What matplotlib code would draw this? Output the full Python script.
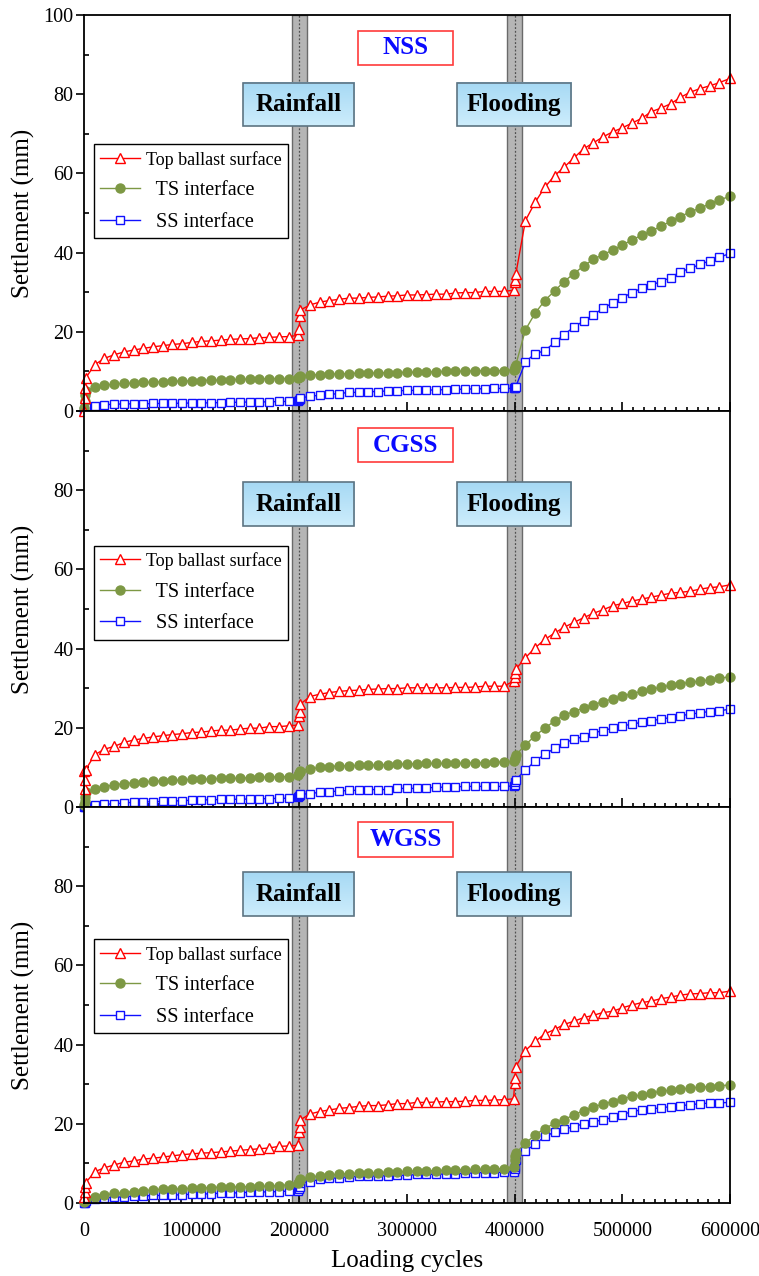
import matplotlib
matplotlib.use("Agg")
import numpy as np
import matplotlib.pyplot as plt
from matplotlib.patches import Rectangle
from matplotlib.colors import LinearSegmentedColormap
from matplotlib.ticker import MultipleLocator, FixedLocator

plt.rcParams['font.family'] = ['Liberation Serif', 'DejaVu Serif']

# Loading cycles at which settlement was recorded (shared by every series)
cycles = [0, 500, 1000, 1500,
          10000, 19000, 28000, 37000, 46000, 55000, 64000, 73000, 82000, 91000, 100000,
          109000, 118000, 127000, 136000, 145000, 154000, 163000, 172000, 181000, 190000,
          199000, 200000, 200500, 201000,
          210000, 219000, 228000, 237000, 246000, 255000, 264000, 273000, 282000, 291000, 300000,
          309000, 318000, 327000, 336000, 345000, 354000, 363000, 372000, 381000, 390000,
          399000, 400000, 400500, 401000,
          410000, 419000, 428000, 437000, 446000, 455000, 464000, 473000, 482000, 491000, 500000,
          509000, 518000, 527000, 536000, 545000, 554000, 563000, 572000, 581000, 590000, 600000]

panel_names = ["NSS", "CGSS", "WGSS"]
series_labels = ["Top ballast surface", "TS interface", "SS interface"]
event_labels = ["Rainfall", "Flooding"]
event_cycles = [200000, 400000]

# Settlement (mm) - NSS
top_nss = [0.0, 3.4, 5.7, 8.3,
           11.7, 13.3, 14.2, 14.9, 15.4, 15.8, 16.2, 16.5, 16.8, 17.0, 17.3, 17.6, 17.7, 17.9, 18.1, 18.2, 18.3, 18.5, 18.6, 18.7, 18.8,
           19.1, 20.6, 24.0, 25.5,
           26.8, 27.5, 27.9, 28.2, 28.5, 28.5, 28.7, 28.8, 29.0, 29.1, 29.3, 29.3, 29.4, 29.5, 29.5, 29.8, 29.9, 29.9, 30.2, 30.2, 30.2,
           30.5, 32.7, 33.2, 34.5,
           48.1, 52.7, 56.5, 59.4, 61.6, 63.9, 66.2, 67.7, 69.2, 70.5, 71.5, 72.7, 73.9, 75.6, 76.5, 77.6, 79.2, 80.5, 81.4, 82.1, 82.9, 84.0]
ts_nss = [0.8, 2.5, 4.0, 5.0,
          6.1, 6.5, 6.8, 7.0, 7.0, 7.2, 7.3, 7.4, 7.5, 7.6, 7.6, 7.7, 7.8, 7.8, 7.9, 8.0, 8.1, 8.1, 8.2, 8.2, 8.2,
          8.4, 8.5, 8.7, 8.9,
          9.1, 9.2, 9.3, 9.4, 9.4, 9.6, 9.6, 9.6, 9.7, 9.7, 9.8, 9.8, 9.9, 9.9, 10.0, 10.0, 10.1, 10.1, 10.2, 10.2, 10.2,
          10.4, 10.7, 11.2, 11.6,
          20.5, 24.7, 27.9, 30.3, 32.7, 34.7, 36.6, 38.3, 39.5, 40.6, 41.9, 43.2, 44.4, 45.4, 46.7, 47.9, 49.1, 50.3, 51.2, 52.3, 53.3, 54.2]
ss_nss = [0.0, 0.5, 1.0, 1.2,
          1.3, 1.6, 1.7, 1.8, 1.8, 1.8, 1.9, 1.9, 1.9, 2.0, 2.0, 2.0, 2.1, 2.1, 2.2, 2.2, 2.3, 2.3, 2.3, 2.4, 2.4,
          2.5, 2.8, 3.0, 3.3,
          3.7, 4.0, 4.2, 4.4, 4.7, 4.7, 4.9, 4.9, 5.1, 5.1, 5.2, 5.2, 5.3, 5.3, 5.4, 5.5, 5.5, 5.6, 5.6, 5.7, 5.7,
          5.7, 5.8, 6.0, 6.1,
          12.4, 14.5, 15.2, 17.3, 19.3, 21.2, 22.7, 24.3, 25.9, 27.3, 28.6, 29.9, 31.0, 31.8, 32.7, 33.7, 35.2, 36.0, 37.0, 37.9, 38.8, 39.8]

# Settlement (mm) - CGSS
top_cgss = [9.0, 4.5, 6.9, 9.4,
            13.2, 14.6, 15.3, 16.3, 16.9, 17.3, 17.7, 18.0, 18.3, 18.5, 18.8, 18.9, 19.2, 19.4, 19.4, 19.7, 19.9, 19.9, 20.3, 20.3, 20.5,
            20.7, 23.1, 24.1, 26.0,
            27.9, 28.5, 28.9, 29.2, 29.4, 29.5, 29.7, 29.8, 29.9, 29.9, 30.1, 30.1, 30.1, 30.1, 30.1, 30.2, 30.2, 30.3, 30.5, 30.5, 30.5,
            31.8, 32.9, 33.8, 34.8,
            37.7, 40.2, 42.3, 43.9, 45.4, 46.6, 47.8, 48.9, 49.8, 50.8, 51.4, 52.0, 52.5, 53.0, 53.5, 54.0, 54.2, 54.5, 55.0, 55.4, 55.6, 56.1]
ts_cgss = [0.5, 1.5, 2.5, 3.7,
           4.5, 5.1, 5.6, 5.9, 6.1, 6.3, 6.5, 6.6, 6.7, 6.8, 7.0, 7.0, 7.1, 7.2, 7.2, 7.3, 7.4, 7.5, 7.6, 7.6, 7.7,
           8.1, 8.5, 8.9, 9.2,
           9.6, 10.0, 10.2, 10.4, 10.4, 10.5, 10.5, 10.7, 10.7, 10.8, 10.9, 10.9, 11.0, 11.0, 11.0, 11.0, 11.1, 11.2, 11.2, 11.3, 11.4,
           11.5, 12.0, 12.3, 13.1,
           15.7, 18.0, 19.9, 21.7, 23.2, 24.1, 25.0, 25.8, 26.6, 27.3, 28.0, 28.6, 29.2, 29.7, 30.3, 30.7, 31.1, 31.5, 31.8, 32.1, 32.5, 32.9]
ss_cgss = [0.0, 0.1, 0.2, 0.3,
           0.5, 0.7, 0.8, 1.0, 1.2, 1.3, 1.3, 1.4, 1.5, 1.6, 1.7, 1.8, 1.8, 1.9, 1.9, 2.0, 2.0, 2.1, 2.1, 2.2, 2.2,
           2.4, 2.7, 3.0, 3.2,
           3.4, 3.7, 3.9, 4.0, 4.2, 4.2, 4.4, 4.4, 4.4, 4.7, 4.7, 4.7, 4.8, 5.0, 5.0, 5.1, 5.2, 5.2, 5.2, 5.2, 5.2,
           5.3, 5.6, 6.2, 6.9,
           9.3, 11.6, 13.3, 14.8, 16.2, 17.1, 17.8, 18.7, 19.3, 19.9, 20.5, 20.9, 21.4, 21.8, 22.2, 22.6, 23.1, 23.4, 23.8, 24.1, 24.3, 24.7]

# Settlement (mm) - WGSS
top_wgss = [1.6, 2.9, 4.0, 5.1,
            7.9, 8.9, 9.6, 10.3, 10.6, 11.1, 11.3, 11.6, 11.9, 12.2, 12.4, 12.6, 12.7, 12.9, 13.1, 13.3, 13.5, 13.7, 13.9, 14.3, 14.4,
            14.6, 17.9, 19.3, 21.0,
            22.5, 23.1, 23.5, 23.9, 24.1, 24.4, 24.6, 24.6, 24.8, 25.1, 25.1, 25.4, 25.4, 25.5, 25.6, 25.6, 25.7, 25.9, 25.9, 26.0, 26.1,
            26.3, 30.3, 31.6, 34.4,
            38.5, 40.8, 42.7, 43.8, 45.1, 45.9, 46.8, 47.4, 48.1, 48.4, 49.3, 50.0, 50.6, 51.0, 51.6, 52.0, 52.5, 52.8, 52.9, 53.1, 53.1, 53.5]
ts_wgss = [0.3, 0.5, 0.8, 1.0,
           1.6, 2.0, 2.4, 2.6, 2.9, 3.1, 3.3, 3.5, 3.5, 3.6, 3.7, 3.8, 3.9, 4.0, 4.0, 4.1, 4.1, 4.2, 4.3, 4.4, 4.6,
           5.0, 5.4, 5.8, 6.0,
           6.5, 6.8, 7.1, 7.3, 7.4, 7.5, 7.6, 7.7, 7.8, 7.9, 8.0, 8.1, 8.1, 8.2, 8.3, 8.4, 8.4, 8.5, 8.5, 8.6, 8.7,
           9.2, 10.9, 11.8, 12.6,
           15.1, 17.2, 18.8, 20.1, 21.0, 22.3, 23.3, 24.2, 25.0, 25.6, 26.3, 26.9, 27.3, 27.8, 28.2, 28.5, 28.8, 29.0, 29.3, 29.4, 29.6, 29.8]
ss_wgss = [0.0, 0.1, 0.3, 0.5,
           1.1, 1.3, 1.4, 1.6, 1.7, 1.8, 1.9, 1.9, 2.0, 2.1, 2.2, 2.3, 2.3, 2.5, 2.5, 2.6, 2.7, 2.8, 2.8, 2.9, 3.0,
           3.1, 3.6, 4.1, 5.1,
           5.4, 6.0, 6.2, 6.4, 6.6, 6.7, 6.8, 6.8, 6.9, 7.0, 7.0, 7.2, 7.2, 7.3, 7.3, 7.4, 7.5, 7.6, 7.7, 7.7, 7.8,
           7.9, 8.5, 9.2, 10.9,
           13.2, 14.8, 16.8, 17.9, 18.6, 19.3, 20.0, 20.5, 21.0, 21.6, 22.3, 23.1, 23.5, 23.7, 24.1, 24.3, 24.6, 24.8, 25.1, 25.2, 25.3, 25.4]

panel_data = [(top_nss, ts_nss, ss_nss),
              (top_cgss, ts_cgss, ss_cgss),
              (top_wgss, ts_wgss, ss_wgss)]

red = '#ff0000'
olive = '#7d9844'
blue = '#1010ff'
series_styles = [
    dict(color=red, marker='^', mfc='white', mec=red, ms=7.5, mew=1.0, lw=1.0, zorder=5),
    dict(color=olive, marker='o', mfc=olive, mec=olive, ms=6.5, mew=1.0, lw=1.0, zorder=4),
    dict(color=blue, marker='s', mfc='white', mec=blue, ms=5.5, mew=1.0, lw=1.0, zorder=3),
]

# light-blue vertical gradient for the event boxes
sky = LinearSegmentedColormap.from_list('sky', ['#a6d9f4', '#cdedfc'])
grad = np.linspace(0, 1, 64).reshape(-1, 1)

# annotation box placement per panel (axes fraction): event boxes, name box, legend
event_box_y = [(0.720, 0.829), (0.710, 0.820), (0.725, 0.835)]
name_box_y = [(0.874, 0.960), (0.871, 0.956), (0.874, 0.961)]
legend_top = [0.674, 0.660, 0.666]
event_box_x = [(0.246, 0.418), (0.577, 0.754)]
name_box_x = (0.424, 0.571)

fig = plt.figure(figsize=(7.59, 12.76), dpi=100)
gs = fig.add_gridspec(3, 1, left=84 / 759, right=730 / 759,
                      top=1 - 15 / 1276, bottom=1 - 1203 / 1276, hspace=0)

axes = []
for i in range(3):
    ax = fig.add_subplot(gs[i])
    axes.append(ax)

    # shaded event bands with dotted centre lines
    for xc in event_cycles:
        ax.axvspan(xc - 6700, xc + 6700, facecolor='#b5b5b5', edgecolor='#6a6a6a',
                   lw=1.0, zorder=1)
        ax.axvline(xc, color='#505050', ls=(0, (1.5, 1.5)), lw=0.9, zorder=1.5)

    handles = []
    for vals, label, st in zip(panel_data[i], series_labels, series_styles):
        h, = ax.plot(cycles, vals, label=label, clip_on=False, **st)
        handles.append(h)

    # event boxes
    y0, y1 = event_box_y[i]
    for (x0, x1), txt in zip(event_box_x, event_labels):
        ax.imshow(grad, cmap=sky, extent=(x0, x1, y0, y1), origin='upper',
                  transform=ax.transAxes, aspect='auto', zorder=7, interpolation='bilinear')
        ax.add_patch(Rectangle((x0, y0), x1 - x0, y1 - y0, transform=ax.transAxes,
                               facecolor='none', edgecolor='#5d7482', lw=1.2, zorder=7.5))
        ax.text((x0 + x1) / 2, (y0 + y1) / 2, txt, transform=ax.transAxes,
                ha='center', va='center', fontsize=18, fontweight='bold',
                color='black', zorder=8)

    # panel name box
    ny0, ny1 = name_box_y[i]
    nx0, nx1 = name_box_x
    ax.add_patch(Rectangle((nx0, ny0), nx1 - nx0, ny1 - ny0, transform=ax.transAxes,
                           facecolor='white', edgecolor='#ff3b3b', lw=1.2, zorder=7))
    ax.text((nx0 + nx1) / 2, (ny0 + ny1) / 2, panel_names[i], transform=ax.transAxes,
            ha='center', va='center', fontsize=18, fontweight='bold',
            color='#0a0aff', zorder=8)

    ax.set_xlim(0, 600000)
    ax.set_ylim(0, 100)
    ax.set_aspect('auto')
    ax.yaxis.set_major_locator(MultipleLocator(20))
    ax.yaxis.set_minor_locator(MultipleLocator(10))
    ax.xaxis.set_major_locator(MultipleLocator(100000))
    ax.xaxis.set_minor_locator(MultipleLocator(10000))

    for sp in ax.spines.values():
        sp.set_linewidth(1.3)
        sp.set_zorder(6)

    ax.tick_params(axis='x', which='both', direction='in', top=False, width=1.2)
    ax.tick_params(axis='x', which='major', length=6.5, labelsize=14.5, pad=14)
    ax.tick_params(axis='x', which='minor', length=3.2)
    ax.tick_params(axis='y', which='major', direction='out', length=5.5, width=1.2,
                   labelsize=14.5, pad=2, right=False)
    ax.tick_params(axis='y', which='minor', direction='in', length=3.6, width=1.2, right=False)

    if i < 2:
        ax.tick_params(axis='x', labelbottom=False)
    if i > 0:
        ax.yaxis.set_major_locator(FixedLocator([0, 20, 40, 60, 80, 100]))
        ax.set_yticklabels(['0', '20', '40', '60', '80', ''])

    ax.set_ylabel('Settlement (mm)', fontsize=18, va='center')
    ax.yaxis.set_label_coords(-0.094, 0.5)

    leg = ax.legend(handles=handles, labels=[series_labels[0], '  ' + series_labels[1],
                                             '  ' + series_labels[2]],
                    loc='upper left', bbox_to_anchor=(0.0155, legend_top[i]),
                    borderaxespad=0, fontsize=14.5, frameon=True, fancybox=False,
                    edgecolor='black', framealpha=1, handlelength=1.95,
                    handletextpad=0.3, labelspacing=0.62, borderpad=0.32)
    leg.get_frame().set_linewidth(1.0)
    leg.set_zorder(9)
    leg.get_texts()[0].set_fontsize(13)

axes[-1].set_xlabel('Loading cycles', fontsize=18, labelpad=6)

fig.savefig('out.png', dpi=100)
